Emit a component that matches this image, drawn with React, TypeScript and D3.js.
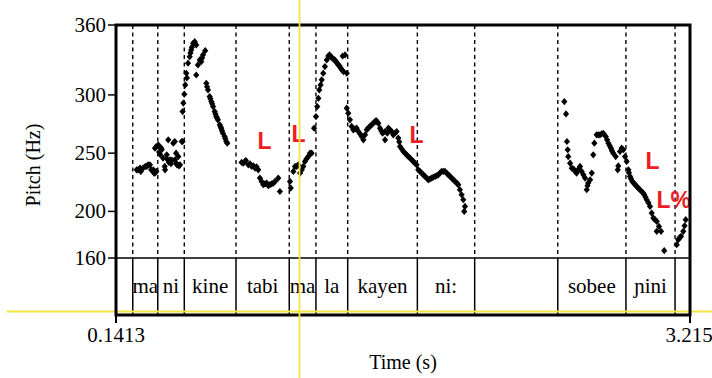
import React from "react";
import * as d3 from "d3";

// Time range (s) and pitch range (Hz)
const timeRange: [number, number] = [0.1413, 3.215];
const pitchRange: [number, number] = [160, 360];
const pitchTicks = [360, 300, 250, 200, 160];

// Interval tier: boundaries (s) and labels
const boundaries = [0.231, 0.365, 0.507, 0.784, 1.069, 1.212, 1.382, 1.755, 2.062, 2.507, 2.872, 3.135];
const syllables = ["", "ma", "ni", "kine", "tabi", "ma", "la", "kayen", "ni:", "", "sobee", "\u0272ini", ""];

// Tone annotations [time, Hz, label]
const tones: [number, number, string][] = [
  [0.899, 253.6, "L"],
  [1.081, 259.6, "L"],
  [1.713, 258.7, "L"],
  [2.977, 236.4, "L"],
  [3.036, 202.9, "L%"],
];

// Pitch track segments: [time (s), F0 (Hz)]
const segMaNi: [number, number][] = [
  [0.252, 235.7], [0.259, 235.7], [0.270, 237.2], [0.274, 234.3], [0.286, 237.2], [0.298, 238.6],
  [0.306, 238.6], [0.313, 240], [0.323, 240], [0.330, 235.7], [0.341, 235.7], [0.345, 232.9],
  [0.350, 232.9], [0.357, 234.3],
  [0.350, 254.3], [0.357, 255.7], [0.368, 257.1], [0.372, 251], [0.377, 249], [0.384, 254.3],
  [0.386, 252.9], [0.393, 245.8], [0.402, 238.6], [0.404, 235.7], [0.413, 248.6], [0.414, 245],
  [0.421, 261.4], [0.425, 242], [0.430, 244.3], [0.436, 241], [0.441, 244], [0.448, 258.6],
  [0.456, 260], [0.457, 244.3], [0.463, 250], [0.464, 241.4], [0.468, 240], [0.475, 247.1],
  [0.479, 239], [0.484, 240], [0.493, 260], [0.498, 260],
];

const segKine: [number, number][] = [
  [0.498, 285.7], [0.502, 293], [0.507, 300.6], [0.512, 308.6], [0.518, 318.6], [0.521, 314.6],
  [0.527, 327.2], [0.536, 332.8], [0.540, 336], [0.544, 338.6], [0.548, 341], [0.554, 344.3],
  [0.563, 345.7], [0.571, 342.9], [0.571, 317.1], [0.580, 325.7], [0.590, 330], [0.598, 328.6],
  [0.602, 331.7], [0.607, 334.3], [0.619, 338],
  [0.625, 310], [0.629, 307], [0.634, 304.3], [0.643, 298.6], [0.647, 296.6], [0.652, 294.3],
  [0.656, 292.3], [0.661, 290], [0.670, 285.7], [0.674, 283.7], [0.678, 281.4], [0.682, 280.3],
  [0.687, 278.6], [0.697, 274.3], [0.701, 272.6], [0.705, 271.4], [0.709, 269.2], [0.714, 267.1],
  [0.723, 264.3], [0.727, 262.3], [0.732, 260], [0.737, 258.6],
];

const segTabiMa: [number, number][] = [
  [0.814, 242], [0.823, 241.4], [0.832, 242.9], [0.837, 243.7], [0.850, 240], [0.859, 240.9],
  [0.868, 238.6], [0.877, 239.2], [0.886, 237.2], [0.894, 238.3], [0.903, 235.7], [0.912, 228.6],
  [0.921, 225.7], [0.930, 222.9], [0.939, 223.7], [0.948, 224.3], [0.957, 222], [0.966, 222.9],
  [0.975, 223.7], [0.984, 224.3], [0.993, 225.7], [1.010, 228.6], [1.019, 217.1],
  [1.073, 225.7], [1.077, 220], [1.091, 234.3], [1.100, 238.6], [1.109, 238.6], [1.117, 240],
  [1.127, 232.9], [1.136, 235.7], [1.144, 238.6], [1.153, 242.9], [1.162, 245.2], [1.171, 247.1],
  [1.180, 250], [1.189, 250],
];

const segLa: [number, number][] = [
  [1.202, 271.4], [1.212, 281.4], [1.219, 290], [1.225, 297.1], [1.230, 304.3], [1.237, 308.6],
  [1.243, 312.9], [1.251, 318.6], [1.260, 324.3], [1.270, 330], [1.278, 333.4], [1.285, 334.3],
  [1.291, 332.8], [1.298, 332.1], [1.305, 330.6], [1.313, 330], [1.319, 328.6], [1.325, 327.4],
  [1.332, 325.7], [1.338, 324.9], [1.345, 322.9], [1.351, 321.4], [1.355, 333.4], [1.359, 320],
  [1.368, 334.3], [1.377, 318.6],
];

const segKayen: [number, number][] = [
  [1.377, 288.6], [1.385, 284.3], [1.394, 278.6], [1.403, 272.9], [1.412, 270], [1.421, 270.9],
  [1.430, 271.4], [1.439, 268.6], [1.448, 266.6], [1.457, 264.3], [1.466, 261.4], [1.475, 265.7],
  [1.484, 270], [1.493, 271.7], [1.501, 272.9], [1.510, 274.3], [1.519, 275.7], [1.527, 276.9],
  [1.534, 278], [1.539, 276.9], [1.546, 275.7], [1.555, 271.4], [1.562, 269.2], [1.569, 267.1],
  [1.582, 261.4], [1.582, 268.6], [1.594, 267.1], [1.600, 271.4], [1.609, 270], [1.618, 268.6],
  [1.626, 265.7], [1.635, 267.1], [1.644, 268.6], [1.653, 262.9], [1.658, 259.7], [1.662, 255.7],
  [1.671, 253.7], [1.680, 251.4], [1.689, 250], [1.698, 248.6], [1.707, 247.1], [1.716, 245.7],
  [1.725, 244.3], [1.733, 242.9], [1.742, 241.4], [1.751, 240], [1.760, 235.7], [1.769, 234.3],
  [1.778, 232.9], [1.787, 231.4], [1.796, 230], [1.805, 228.6], [1.814, 227.1], [1.823, 228],
  [1.832, 228.6], [1.840, 229.3], [1.850, 230], [1.858, 230.6], [1.867, 231.4], [1.876, 232.9],
  [1.885, 234.3], [1.894, 234.3], [1.903, 234.3], [1.912, 232.9], [1.921, 231.4], [1.930, 230],
  [1.939, 228.6], [1.948, 227.1], [1.957, 225.7], [1.966, 224.3], [1.974, 222.9], [1.983, 218.6],
  [1.992, 214.3], [2.001, 210], [2.010, 204.3], [2.006, 200],
];

const segSobeeNini: [number, number][] = [
  [2.542, 294.3], [2.551, 283.7], [2.556, 260], [2.560, 252.9], [2.563, 247.1], [2.573, 241.4],
  [2.582, 237.1], [2.589, 236.6], [2.595, 235.7], [2.602, 234], [2.608, 232.9], [2.615, 235.7],
  [2.626, 238.6], [2.635, 234.3], [2.644, 231.4], [2.653, 228.6], [2.662, 218.6], [2.666, 222],
  [2.670, 224.3], [2.680, 227.1], [2.689, 232.9], [2.697, 248.6], [2.703, 258.6], [2.715, 265.7],
  [2.724, 265.7], [2.733, 265.7], [2.742, 266.6], [2.751, 267.1], [2.764, 264.3], [2.771, 261.4],
  [2.778, 258.6], [2.785, 256.3], [2.792, 254.3], [2.797, 252], [2.804, 250], [2.817, 247.1],
  [2.828, 235.7], [2.831, 239], [2.840, 251.4], [2.849, 254.3], [2.858, 252.9], [2.867, 247.1],
  [2.876, 242.9], [2.885, 235.7], [2.888, 233.2], [2.894, 230], [2.899, 228], [2.906, 225.7],
  [2.914, 224.3], [2.921, 222.9], [2.930, 221.4], [2.938, 220], [2.947, 218.6], [2.956, 217.1],
  [2.963, 216], [2.970, 214.3], [2.977, 212.2], [2.983, 210], [2.992, 207.5], [3.001, 204.3],
  [3.010, 198.6], [3.019, 194.3], [3.028, 192.9], [3.037, 191.4], [3.037, 182.9], [3.049, 187.1],
  [3.060, 182.9], [3.077, 166.3],
  [3.144, 171.4], [3.152, 175.7], [3.160, 177.5], [3.167, 178.6], [3.179, 182.9], [3.186, 187.7],
  [3.192, 192.9],
];

const segments = [segMaNi, segKine, segTabiMa, segLa, segKayen, segSobeeNini];

const W = 712;
const H = 378;
const left = 116;
const right = 690;
const top = 25;
const pitchBottom = 258;
const tierBottom = 315;

const serif = "'Liberation Serif', 'Times New Roman', 'DejaVu Serif', serif";
const diamond = "M0,-3.6L3.1,0L0,3.6L-3.1,0Z";

export default function App() {
  const x = d3.scaleLinear().domain(timeRange).range([left, right]);
  const y = d3.scaleLinear().domain(pitchRange).range([pitchBottom, top]);
  const edges = [timeRange[0], ...boundaries, timeRange[1]];
  const yellow = "#f4e43c";

  return (
    <svg
      width={W}
      height={H}
      style={{ position: "absolute", left: 0, top: 0, background: "#fff" }}
      fontFamily={serif}
    >
      <rect x={0} y={0} width={W} height={H} fill="#fff" />
      {/* dashed boundaries in pitch area */}
      {boundaries.map((b, i) => (
        <line
          key={"d" + i}
          x1={x(b)}
          x2={x(b)}
          y1={top}
          y2={pitchBottom}
          stroke="#000"
          strokeWidth={1.4}
          strokeDasharray="4,3.5"
        />
      ))}
      {/* solid boundaries in tier */}
      {boundaries.map((b, i) => (
        <line key={"s" + i} x1={x(b)} x2={x(b)} y1={pitchBottom} y2={tierBottom} stroke="#000" strokeWidth={1.5} />
      ))}
      <line x1={left} x2={right} y1={pitchBottom} y2={pitchBottom} stroke="#000" strokeWidth={1.5} />
      {/* tier labels */}
      {syllables.map((s, i) =>
        s ? (
          <text
            key={"t" + i}
            x={(x(edges[i]) + x(edges[i + 1])) / 2}
            y={293}
            textAnchor="middle"
            fontSize={21}
            fill="#000"
          >
            {s}
          </text>
        ) : null
      )}
      {/* pitch points */}
      {segments.map((seg, si) => (
        <g key={"g" + si}>
          {seg.map((p, pi) => (
            <path key={pi} d={diamond} transform={`translate(${x(p[0])},${y(p[1])})`} fill="#000" />
          ))}
        </g>
      ))}
      {/* tone labels */}
      {tones.map((t, i) => (
        <text
          key={"l" + i}
          x={x(t[0])}
          y={y(t[1])}
          fontSize={23}
          fontWeight="bold"
          fontFamily="'Liberation Sans', Arial, sans-serif"
          fill="#ee1c25"
        >
          {t[2]}
        </text>
      ))}
      {/* yellow cursor line (horizontal) */}
      <line x1={7} x2={W} y1={311.5} y2={311.5} stroke={yellow} strokeWidth={1.8} />
      {/* frame */}
      <rect x={left} y={top} width={right - left} height={tierBottom - top} fill="none" stroke="#000" strokeWidth={3} />
      {/* y ticks */}
      {pitchTicks.map((v) => (
        <g key={"y" + v}>
          <line x1={108} x2={left} y1={y(v)} y2={y(v)} stroke="#000" strokeWidth={1.5} />
          <text x={106} y={y(v) + 7} textAnchor="end" fontSize={21} fill="#000">
            {v}
          </text>
        </g>
      ))}
      {/* x ticks */}
      {timeRange.map((t, i) => (
        <g key={"x" + i}>
          <line x1={x(t)} x2={x(t)} y1={tierBottom} y2={323} stroke="#000" strokeWidth={2} />
          <text x={i === 0 ? x(t) : x(t) - 1} y={342} textAnchor="middle" fontSize={21} fill="#000">
            {t}
          </text>
        </g>
      ))}
      <text x={(left + right) / 2} y={369} textAnchor="middle" fontSize={20} fill="#000">
        Time (s)
      </text>
      <text transform="translate(40,165) rotate(-90)" textAnchor="middle" fontSize={20} fill="#000">
        Pitch (Hz)
      </text>
      {/* yellow cursor line (vertical) */}
      <line x1={299.5} x2={299.5} y1={0} y2={H} stroke={yellow} strokeWidth={1.8} />
    </svg>
  );
}
